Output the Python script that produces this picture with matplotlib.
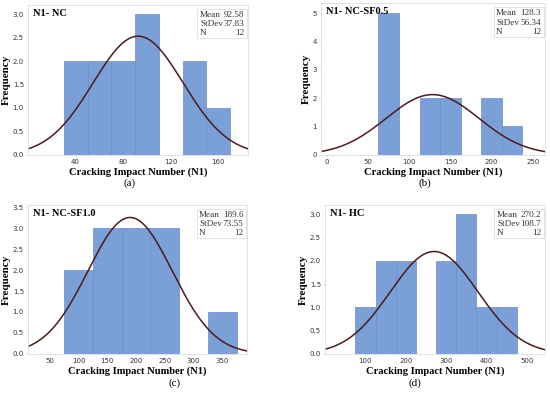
import numpy as np
import matplotlib.pyplot as plt
from matplotlib.patches import Rectangle

# panel data
titles = ['N1- NC', 'N1- NC-SF0.5', 'N1- NC-SF1.0', 'N1- HC']
captions = ['(a)', '(b)', '(c)', '(d)']
bin_starts = [30, 62.5, 75, 75]
bin_widths = [20, 25, 50, 50]
counts_a = [2, 2, 2, 3, 0, 2, 1]
counts_b = [5, 0, 2, 2, 0, 2, 1]
counts_c = [2, 3, 3, 3, 0, 1]
counts_d = [1, 2, 2, 0, 2, 3, 1, 1]
means = [92.58, 128.3, 189.6, 270.2]
stdevs = [37.83, 56.34, 73.55, 108.7]
mean_labels = ['92.58', '128.3', '189.6', '270.2']
stdev_labels = ['37.83', '56.34', '73.55', '108.7']
n_obs = [12, 12, 12, 12]
xlims = [(0, 185), (-7, 265), (12, 393), (0, 545)]
ylims = [(0, 3.2), (0, 5.35), (0, 3.55), (0, 3.2)]
xticks = [[40, 80, 120, 160], [0, 50, 100, 150, 200, 250],
          [50, 100, 150, 200, 250, 300, 350], [100, 200, 300, 400, 500]]
yticks = [np.arange(0, 3.01, 0.5), np.arange(0, 6, 1),
          np.arange(0, 3.51, 0.5), np.arange(0, 3.01, 0.5)]

all_counts = [counts_a, counts_b, counts_c, counts_d]

# axes rectangles [left, bottom, width, height] in figure fraction
rects = [[0.051, 0.612, 0.400, 0.376],
         [0.584, 0.612, 0.407, 0.380],
         [0.051, 0.113, 0.398, 0.373],
         [0.591, 0.113, 0.400, 0.373]]
caption_pos = [(0.235, 0.541), (0.773, 0.541), (0.318, 0.040), (0.755, 0.040)]

serif = 'Liberation Serif'
bar_color = '#7ba0d8'
edge_color = '#6a8cc6'
curve_color = '#4a1c1c'

fig = plt.figure(figsize=(5.5, 3.99), dpi=100)

for i in range(4):
    ax = fig.add_axes(rects[i])
    counts = np.array(all_counts[i])
    lefts = bin_starts[i] + bin_widths[i] * np.arange(len(counts))
    ax.bar(lefts, counts, width=bin_widths[i], align='edge',
           color=bar_color, edgecolor=edge_color, linewidth=0.5)

    xs = np.linspace(xlims[i][0], xlims[i][1], 300)
    ys = n_obs[i] * bin_widths[i] / (stdevs[i] * np.sqrt(2 * np.pi)) * \
        np.exp(-0.5 * ((xs - means[i]) / stdevs[i]) ** 2)
    ax.plot(xs, ys, color=curve_color, linewidth=1.1)

    ax.set_xlim(xlims[i])
    ax.set_ylim(ylims[i])
    ax.set_xticks(xticks[i])
    ax.set_yticks(yticks[i])
    if i == 1:
        ax.set_yticklabels([f'{v:.0f}' for v in yticks[i]])
    else:
        ax.set_yticklabels([f'{v:.1f}' for v in yticks[i]])
    ax.tick_params(labelsize=5, length=1.5, width=0.4, color='#cccccc',
                   pad=1.5, labelcolor='#333333')
    for s in ax.spines.values():
        s.set_color('#dddddd')
        s.set_linewidth(0.6)

    ax.set_xlabel('Cracking Impact Number (N1)', fontfamily=serif,
                  fontweight='bold', fontsize=7.6, labelpad=1.5)
    ax.set_ylabel('Frequency', fontfamily=serif, fontweight='bold',
                  fontsize=8, labelpad=1.5)

    ax.text(0.022, 0.975, titles[i], transform=ax.transAxes, ha='left', va='top',
            fontfamily=serif, fontweight='bold', fontsize=7.5)

    # stats box
    bx, by, bw, bh = 0.77, 0.78, 0.225, 0.195
    ax.add_patch(Rectangle((bx, by), bw, bh, transform=ax.transAxes,
                           facecolor='white', edgecolor='#dddddd', linewidth=0.6,
                           zorder=3))
    rows = [('Mean', mean_labels[i]), ('StDev', stdev_labels[i]), ('N', str(n_obs[i]))]
    for k, (lab, val) in enumerate(rows):
        yy = by + bh - 0.015 - k * 0.062
        ax.text(bx + 0.012, yy, lab, transform=ax.transAxes, ha='left', va='top',
                fontfamily=serif, fontsize=6.6, color='#333333', zorder=4)
        ax.text(bx + bw - 0.012, yy, val, transform=ax.transAxes, ha='right',
                va='top', fontfamily=serif, fontsize=6.6, color='#333333', zorder=4)

    fig.text(caption_pos[i][0], caption_pos[i][1], captions[i], ha='center',
             va='center', fontfamily=serif, fontsize=8)

fig.savefig('out.png', dpi=100)
